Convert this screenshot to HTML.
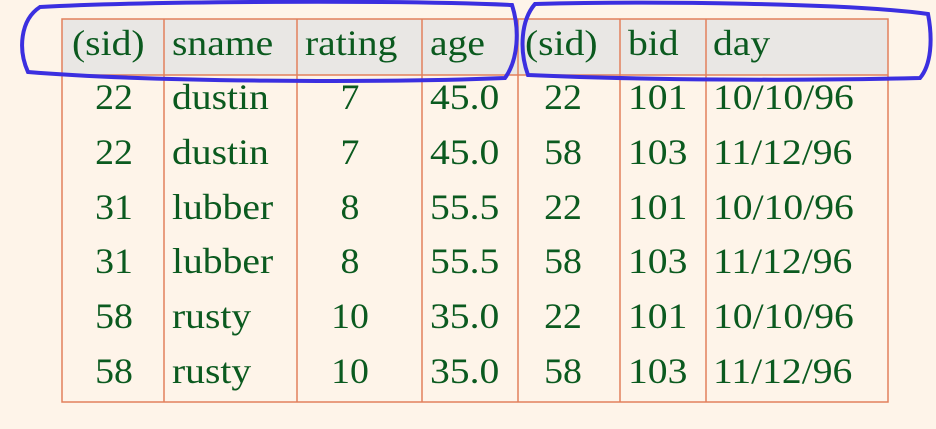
<!DOCTYPE html>
<html><head><meta charset="utf-8"><style>
body{margin:0;width:936px;height:429px;background:#fef4e9;overflow:hidden;position:relative;font-family:"Liberation Serif",serif;}
.t{position:absolute;font-size:36px;color:#0b5a1f;line-height:40px;white-space:nowrap;transform-origin:0 50%;transform:scaleX(1.1);}
.c{transform-origin:50% 50%;transform:translateX(-50%) scaleX(1.05);}
</style></head><body>
<svg width="936" height="429" style="position:absolute;left:0;top:0">
<rect x="62" y="19" width="826" height="56" fill="#e9e7e4"/>
<g stroke="#e2805c" stroke-width="1.5" fill="none">
<rect x="62" y="19" width="826" height="383"/>
<line x1="62" y1="75" x2="888" y2="75"/>
<line x1="164" y1="19" x2="164" y2="402"/>
<line x1="297" y1="19" x2="297" y2="402"/>
<line x1="422" y1="19" x2="422" y2="402"/>
<line x1="518" y1="19" x2="518" y2="402"/>
<line x1="620" y1="19" x2="620" y2="402"/>
<line x1="706" y1="19" x2="706" y2="402"/>
</g>
<path d="M40,7 C150,1 400,0 512,5 C520,30 518,60 505,78 C380,83 150,82 28,72 C18,50 20,20 40,7 Z" fill="none" stroke="#3b2fe0" stroke-width="4"/>
<path d="M535,4 C650,1 850,3 928,14 C933,40 931,65 920,78 C800,81 640,80 528,75 C519,50 521,20 535,4 Z" fill="none" stroke="#3b2fe0" stroke-width="4"/>
</svg>
<div id="cells"></div>
<script>
const headers=["(sid)","sname","rating","age","(sid)","bid","day"];
const rows=[["22","dustin","7","45.0","22","101","10/10/96"],
["22","dustin","7","45.0","58","103","11/12/96"],
["31","lubber","8","55.5","22","101","10/10/96"],
["31","lubber","8","55.5","58","103","11/12/96"],
["58","rusty","10","35.0","22","101","10/10/96"],
["58","rusty","10","35.0","58","103","11/12/96"]];
const xs=[[72,0],[172,0],[305,0],[430,0],[525,0],[628,0],[713,0]];
const bx=[[114,1],[172,0],[350,1],[430,0],[563,1],[628,0],[713,0]];
const root=document.getElementById('cells');
function add(txt,x,c,y,name){const d=document.createElement('div');d.className='t'+(c?' c':'');d.style.left=x+'px';d.style.top=y+'px';d.textContent=txt;


root.appendChild(d);}
headers.forEach((h,i)=>add(h,xs[i][0],0,23,'header-'+h.replace(/[()]/g,'')));
rows.forEach((r,ri)=>r.forEach((v,i)=>add(v,bx[i][0],bx[i][1],77+ri*54.8,'cell-r'+(ri+1)+'-c'+(i+1))));
</script>
</body></html>
